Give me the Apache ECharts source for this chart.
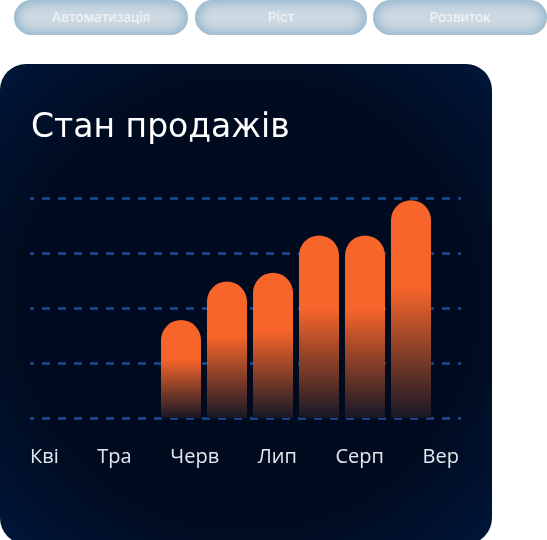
<!DOCTYPE html>
<html>
<head>
<meta charset="utf-8">
<script src="https://cdn.jsdelivr.net/npm/echarts@6/dist/echarts.min.js"></script>
<style>
    html, body {
        margin: 0;
        padding: 0;
        width: 547px;
        height: 540px;
        overflow: hidden;
        background: #ffffff;
        font-family: "Open Sans", "Noto Sans", sans-serif;
    }
    .pill {
        position: absolute;
        top: 0;
        height: 35px;
        border-radius: 18px;
        background: #cdd9e2;
        box-shadow: inset 0 0 12px 3px #8fb4cb;
        color: #edf2f5;
        font-family: Inter, "Open Sans", sans-serif;
        font-size: 13.5px;
        font-weight: 500;
        line-height: 35px;
        text-align: center;
    }
    #card {
        position: absolute;
        left: 0;
        top: 64px;
        width: 492px;
        height: 480px;
        border-radius: 26px;
        background: radial-gradient(ellipse at 50% 50%, #000b1f 65%, #01163a 100%);
    }
    #months {
        position: absolute;
        left: 30px;
        width: 429px;
        top: 443px;
        display: flex;
        justify-content: space-between;
        color: #e4e8ee;
        font-size: 20px;
        line-height: 26px;
    }
    #main {
        position: absolute;
        left: 0;
        top: 0;
        width: 547px;
        height: 540px;
    }
</style>
</head>
<body>
<div id="pills"></div>
<div id="card"></div>
<div id="main"></div>
<div id="months"></div>
<script>
    var tabs = ['Автоматизація', 'Ріст', 'Розвиток'];
    var months = ['Кві', 'Тра', 'Черв', 'Лип', 'Серп', 'Вер'];
    var sales = [44.5, 62, 66, 83, 83, 99];
    var yTicks = [0, 25, 50, 75, 100];

    // top pills
    var pillBox = [[14, 174], [195, 172], [373, 174]];
    var pills = document.getElementById('pills');
    for (var i = 0; i < tabs.length; i++) {
        var p = document.createElement('div');
        p.className = 'pill';
        p.style.left = pillBox[i][0] + 'px';
        p.style.width = pillBox[i][1] + 'px';
        p.textContent = tabs[i];
        pills.appendChild(p);
    }

    // month labels row
    var row = document.getElementById('months');
    for (var j = 0; j < months.length; j++) {
        var s = document.createElement('span');
        s.textContent = months[j];
        row.appendChild(s);
    }

    var chart = echarts.init(document.getElementById('main'));

    var barColor = new echarts.graphic.LinearGradient(0, 0, 0, 1, [
        {offset: 0, color: '#f7652a'},
        {offset: 0.4, color: '#f7652a'},
        {offset: 1, color: '#161826'}
    ]);

    var option = {
        backgroundColor: 'transparent',
        title: {
            text: 'Стан продажів',
            left: 31,
            top: 112,
            padding: 0,
            textStyle: {
                color: '#ffffff',
                fontSize: 33,
                fontWeight: 500,
                fontFamily: '"DejaVu Sans", sans-serif'
            }
        },
        grid: [
            {left: 30, width: 431, top: 198, height: 220},
            {left: 158, width: 276, top: 198, height: 220}
        ],
        xAxis: [
            {gridIndex: 0, type: 'category', data: months, show: false},
            {gridIndex: 1, type: 'category', data: months, show: false}
        ],
        yAxis: [
            {
                gridIndex: 0,
                type: 'value',
                min: yTicks[0],
                max: yTicks[yTicks.length - 1],
                interval: 25,
                axisLine: {show: false},
                axisTick: {show: false},
                axisLabel: {show: false},
                splitLine: {
                    show: true,
                    lineStyle: {
                        color: '#1c4d94',
                        width: 2.5,
                        type: [8, 8],
                        dashOffset: 4
                    }
                }
            },
            {
                gridIndex: 1,
                type: 'value',
                min: 0,
                max: 100,
                show: false,
                splitLine: {show: false}
            }
        ],
        series: [{
            name: 'Продажі',
            type: 'bar',
            xAxisIndex: 1,
            yAxisIndex: 1,
            data: sales,
            barWidth: 40,
            itemStyle: {
                color: barColor,
                borderRadius: [20, 20, 0, 0]
            },
            silent: true
        }],
        animation: false
    };

    chart.setOption(option);
</script>
</body>
</html>
